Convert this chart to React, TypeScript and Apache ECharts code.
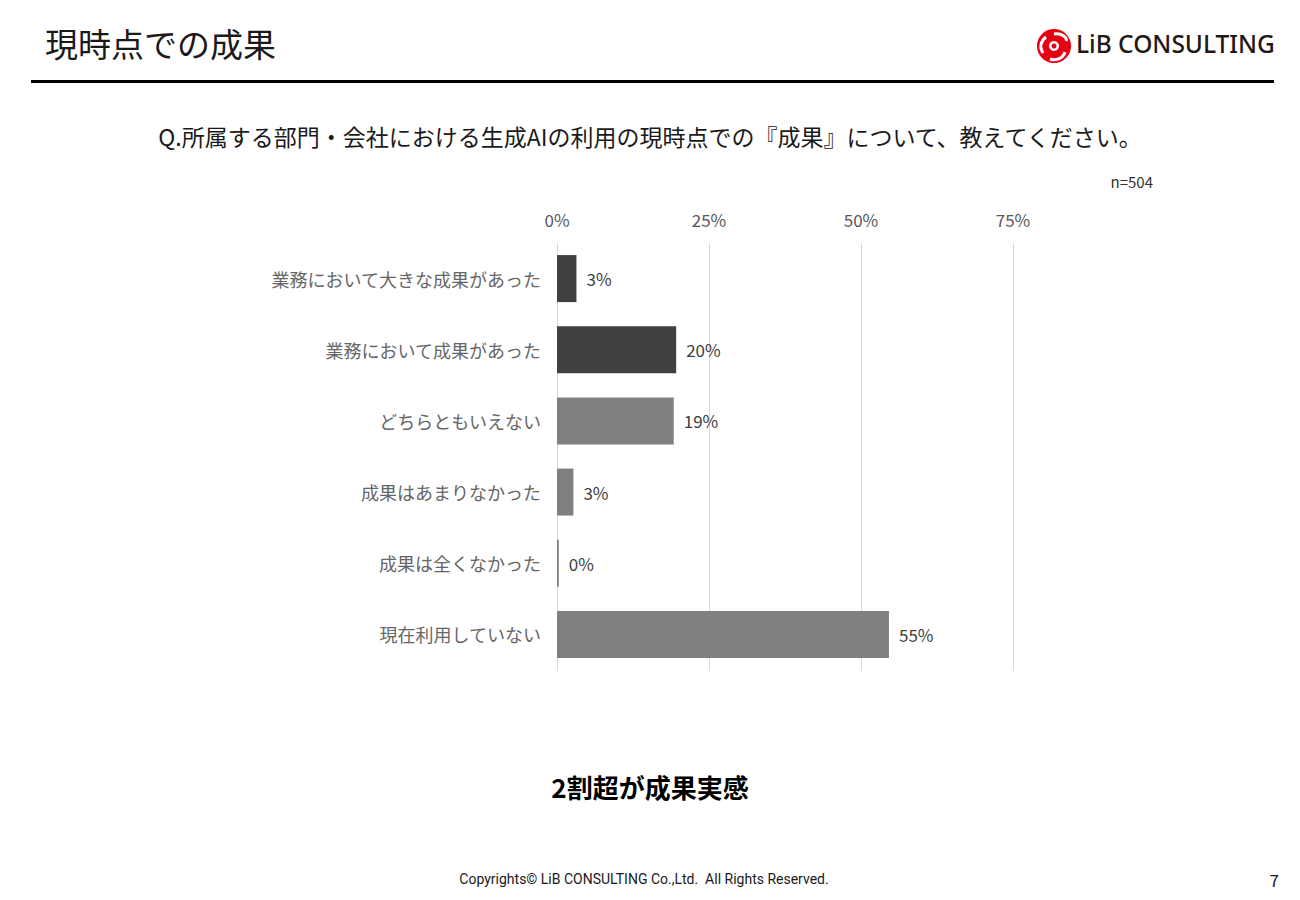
import React, { useEffect, useRef } from "react";
import * as echarts from "echarts";

const categories = [
  "業務において大きな成果があった",
  "業務において成果があった",
  "どちらともいえない",
  "成果はあまりなかった",
  "成果は全くなかった",
  "現在利用していない",
];
const values = [3.2, 19.6, 19.2, 2.7, 0.3, 54.6];
const barColors = ["#404040", "#404040", "#808080", "#808080", "#808080", "#808080"];
const xTicks = [0, 25, 50, 75];

const FONT = "'Noto Sans CJK JP', 'Noto Sans', sans-serif";

export default function App() {
  const ref = useRef<HTMLDivElement>(null);
  useEffect(() => {
    if (!ref.current) return;
    const chart = echarts.init(ref.current, null, { renderer: "svg" });
    const cats = [...categories].reverse();
    const vals = [...values].reverse();
    const cols = [...barColors].reverse();
    chart.setOption({
      animation: false,
      backgroundColor: "#ffffff",
      textStyle: { fontFamily: FONT },
      grid: { left: 557, top: 243, width: 456, height: 427, containLabel: false },
      xAxis: {
        type: "value",
        position: "top",
        min: xTicks[0],
        max: xTicks[xTicks.length - 1],
        interval: 25,
        axisLine: { show: false },
        axisTick: { show: false },
        axisLabel: {
          formatter: (v: number) => `${v}%`,
          color: "#595959",
          fontSize: 17,
          margin: 15,
          fontFamily: FONT,
        },
        splitLine: { show: true, lineStyle: { color: "#d9d9d9", width: 1 } },
      },
      yAxis: {
        type: "category",
        data: cats,
        axisLine: { show: false },
        axisTick: { show: false },
        axisLabel: { color: "#666666", fontSize: 18, margin: 16, fontFamily: FONT },
      },
      series: [
        {
          type: "bar",
          data: vals.map((v, i) => ({ value: v, itemStyle: { color: cols[i] } })),
          barWidth: 47,
          label: {
            show: true,
            position: "right",
            distance: 10,
            color: "#404040",
            fontSize: 17,
            fontFamily: FONT,
            formatter: (p: any) => `${Math.round(p.value)}%`,
          },
        },
      ],
      graphic: [
        {
          type: "text",
          left: 45,
          top: 26,
          style: { text: "現時点での成果", fontSize: 33, fill: "#1a1a1a", fontFamily: FONT },
        },
        {
          type: "rect",
          shape: { x: 31, y: 80, width: 1243, height: 3 },
          style: { fill: "#000000" },
        },
        {
          type: "group",
          left: 1037,
          top: 29,
          children: [
            { type: "circle", shape: { cx: 17, cy: 17, r: 17 }, style: { fill: "#e60012" } },
            {
              type: "bezierCurve",
              shape: { x1: 17, y1: 5, x2: 29, y2: 12, cpx1: 25, cpy1: 4, cpx2: 31, cpy2: 9 },
              style: { stroke: "#ffffff", lineWidth: 3, fill: "none" },
            },
            {
              type: "bezierCurve",
              shape: { x1: 28, y1: 23, x2: 13, y2: 30, cpx1: 26, cpy1: 30, cpx2: 18, cpy2: 32 },
              style: { stroke: "#ffffff", lineWidth: 3, fill: "none" },
            },
            {
              type: "bezierCurve",
              shape: { x1: 6, y1: 24, x2: 9, y2: 8, cpx1: 2, cpy1: 18, cpx2: 4, cpy2: 12 },
              style: { stroke: "#ffffff", lineWidth: 3, fill: "none" },
            },
            { type: "circle", shape: { cx: 17, cy: 17, r: 5 }, style: { fill: "#ffffff" } },
            { type: "circle", shape: { cx: 17, cy: 17, r: 2.5 }, style: { fill: "#e60012" } },
          ],
        },
        {
          type: "text",
          left: 1076,
          top: 31,
          style: {
            text: "LiB CONSULTING",
            fontSize: 24.5,
            fill: "#231815",
            fontFamily: "'Noto Sans', sans-serif",
            fontWeight: 500,
          },
        },
        {
          type: "text",
          x: 650,
          y: 136,
          style: {
            text: "Q.所属する部門・会社における生成AIの利用の現時点での『成果』について、教えてください。",
            fontSize: 23,
            fill: "#1a1a1a",
            fontFamily: FONT,
            textAlign: "center",
            textVerticalAlign: "middle",
          },
        },
        {
          type: "text",
          x: 1153,
          y: 181,
          style: {
            text: "n=504",
            fontSize: 15,
            fill: "#333333",
            fontFamily: FONT,
            textAlign: "right",
            textVerticalAlign: "middle",
          },
        },
        {
          type: "text",
          x: 650,
          y: 786,
          style: {
            text: "2割超が成果実感",
            fontSize: 26,
            fontWeight: "bold",
            fill: "#000000",
            fontFamily: FONT,
            textAlign: "center",
            textVerticalAlign: "middle",
          },
        },
        {
          type: "text",
          x: 644,
          y: 879,
          style: {
            text: "Copyrights© LiB CONSULTING Co.,Ltd.  All Rights Reserved.",
            fontSize: 14,
            fill: "#1a1a1a",
            fontFamily: "Roboto, 'Noto Sans', sans-serif",
            textAlign: "center",
            textVerticalAlign: "middle",
          },
        },
        {
          type: "text",
          x: 1279,
          y: 879,
          style: {
            text: "7",
            fontSize: 17,
            fill: "#1a1a1a",
            fontFamily: FONT,
            textAlign: "right",
            textVerticalAlign: "middle",
          },
        },
      ],
    });
    return () => chart.dispose();
  }, []);
  return (
    <div
      ref={ref}
      style={{ position: "fixed", left: 0, top: 0, width: 1300, height: 900, background: "#fff" }}
    />
  );
}
